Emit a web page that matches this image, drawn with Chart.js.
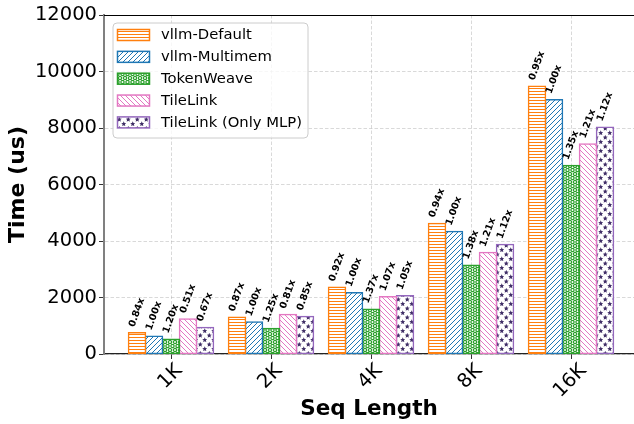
<!DOCTYPE html>
<html>
<head>
<meta charset="utf-8">
<script src="https://cdn.jsdelivr.net/npm/chart.js@4.4.0/dist/chart.umd.min.js"></script>
<style>
  html, body { margin: 0; padding: 0; background: #fff; }
  canvas { display: block; }
</style>
</head>
<body>
<canvas id="c" width="634" height="424"></canvas>
<script>
// Sequence lengths on the x axis
const categories = ['1K', '2K', '4K', '8K', '16K'];

// Latency per configuration (us)
const vllmDefault  = [750, 1300, 2360, 4620, 9480];
const vllmMultimem = [630, 1130, 2170, 4340, 9000];
const tokenWeave   = [525, 905, 1585, 3145, 6670];
const tileLink     = [1235, 1395, 2025, 3590, 7430];
const tileLinkMlp  = [940, 1330, 2065, 3875, 8030];

// Speedup over vllm-Multimem, printed above each bar
const vllmDefaultSpeedup  = ['0.84x', '0.87x', '0.92x', '0.94x', '0.95x'];
const vllmMultimemSpeedup = ['1.00x', '1.00x', '1.00x', '1.00x', '1.00x'];
const tokenWeaveSpeedup   = ['1.20x', '1.25x', '1.37x', '1.38x', '1.35x'];
const tileLinkSpeedup     = ['0.51x', '0.81x', '1.07x', '1.21x', '1.21x'];
const tileLinkMlpSpeedup  = ['0.67x', '0.85x', '1.05x', '1.12x', '1.12x'];

// Y axis ticks
const yTicks = [0, 2000, 4000, 6000, 8000, 10000, 12000];

const FONT = "'DejaVu Sans', sans-serif";
const canvas = document.getElementById('c');
const mainCtx = canvas.getContext('2d');

function makePattern(w, h, draw) {
  const t = document.createElement('canvas');
  t.width = w; t.height = h;
  const g = t.getContext('2d');
  g.fillStyle = '#ffffff';
  g.fillRect(0, 0, w, h);
  draw(g, w, h);
  return mainCtx.createPattern(t, 'repeat');
}

function hatchHorizontal(color) {
  return makePattern(4, 3, (g, w) => {
    g.fillStyle = color;
    g.fillRect(0, 1, w, 1);
  });
}

function hatchDiagonal(color, forward) {
  return makePattern(5, 5, (g, w, h) => {
    g.strokeStyle = color;
    g.lineWidth = 1;
    g.beginPath();
    for (let o = -w; o <= w; o += w) {
      if (forward) { g.moveTo(o, h); g.lineTo(o + w, 0); }
      else { g.moveTo(o, 0); g.lineTo(o + w, h); }
    }
    g.stroke();
  });
}

function hatchCircles(color) {
  return makePattern(10, 8, (g) => {
    g.strokeStyle = color;
    g.lineWidth = 1.3;
    const pts = [[2.5, 2], [7.5, 2], [0, 6], [5, 6], [10, 6]];
    pts.forEach(([x, y]) => {
      g.beginPath();
      g.arc(x, y, 1.6, 0, Math.PI * 2);
      g.stroke();
    });
  });
}

function starPath(g, cx, cy, R, r) {
  g.beginPath();
  for (let k = 0; k < 10; k++) {
    const rad = k % 2 === 0 ? R : r;
    const a = -Math.PI / 2 + k * Math.PI / 5;
    const x = cx + rad * Math.cos(a), y = cy + rad * Math.sin(a);
    if (k === 0) g.moveTo(x, y); else g.lineTo(x, y);
  }
  g.closePath();
}

function hatchStars(color) {
  return makePattern(9, 9, (g) => {
    g.fillStyle = color;
    [[2.25, 2.5], [6.75, 7]].forEach(([x, y]) => {
      starPath(g, x, y, 2.7, 1.2);
      g.fill();
    });
  });
}

const COLORS = {
  orange: '#ff7f0e',
  blue: '#1f77b4',
  green: '#2ca02c',
  pink: '#e377c2',
  purple: '#9467bd'
};

function series(label, values, speedups, color, fill) {
  return {
    label,
    data: values.map((v, i) => ({ x: i, y: v })),
    speedups,
    backgroundColor: fill,
    borderColor: color,
    borderWidth: 1.5,
    borderSkipped: false,
    inflateAmount: 0.75
  };
}

const datasets = [
  series('vllm-Default', vllmDefault, vllmDefaultSpeedup, COLORS.orange, hatchHorizontal(COLORS.orange)),
  series('vllm-Multimem', vllmMultimem, vllmMultimemSpeedup, COLORS.blue, hatchDiagonal(COLORS.blue, true)),
  series('TokenWeave', tokenWeave, tokenWeaveSpeedup, COLORS.green, hatchCircles(COLORS.green)),
  series('TileLink', tileLink, tileLinkSpeedup, COLORS.pink, hatchDiagonal(COLORS.pink, false)),
  series('TileLink (Only MLP)', tileLinkMlp, tileLinkMlpSpeedup, COLORS.purple, hatchStars('#3f2d66'))
];

// Rotated speedup labels above bars
const speedupLabels = {
  id: 'speedupLabels',
  afterDatasetsDraw(chart) {
    const ctx = chart.ctx;
    const th = 70 * Math.PI / 180;
    const fs = 9.6;
    const h = fs * 0.75;
    ctx.save();
    ctx.font = `bold ${fs}px ${FONT}`;
    ctx.fillStyle = '#000';
    ctx.textAlign = 'left';
    ctx.textBaseline = 'middle';
    chart.data.datasets.forEach((ds, di) => {
      chart.getDatasetMeta(di).data.forEach((bar, i) => {
        const txt = ds.speedups[i];
        const L = ctx.measureText(txt).width;
        const ax = bar.x - L * Math.cos(th) / 2;
        const ay = bar.y - 5 - (h / 2) * Math.cos(th);
        ctx.save();
        ctx.translate(ax, ay);
        ctx.rotate(-th);
        ctx.fillText(txt, 0, 0);
        ctx.restore();
      });
    });
    ctx.restore();
  }
};

// Top frame line, rotated category labels and the legend box
const decorations = {
  id: 'decorations',
  afterDraw(chart) {
    const ctx = chart.ctx;
    const area = chart.chartArea;
    const xs = chart.scales.x;

    ctx.save();
    ctx.strokeStyle = '#000';
    ctx.lineWidth = 1.1;
    ctx.beginPath();
    ctx.moveTo(area.left, area.top + 0.5);
    ctx.lineTo(area.right, area.top + 0.5);
    ctx.stroke();
    ctx.restore();

    // category tick labels, rotated 45 degrees and centred under each tick
    ctx.save();
    const fs = 19.5;
    ctx.font = `${fs}px ${FONT}`;
    ctx.fillStyle = '#000';
    ctx.textAlign = 'center';
    ctx.textBaseline = 'middle';
    const c45 = Math.SQRT1_2;
    categories.forEach((lab, i) => {
      const tx = xs.getPixelForValue(i);
      const w = ctx.measureText(lab).width;
      const hh = fs * 0.73;
      const half = (w * c45 + hh * c45) / 2;
      ctx.save();
      ctx.translate(tx - 1.5, area.bottom + 8 + half);
      ctx.rotate(-Math.PI / 4);
      ctx.fillText(lab, 0, 1);
      ctx.restore();
    });
    ctx.restore();

    // legend
    ctx.save();
    const lx = 113, ly = 23, lw = 195, lh = 115, rad = 4;
    ctx.beginPath();
    ctx.moveTo(lx + rad, ly);
    ctx.arcTo(lx + lw, ly, lx + lw, ly + lh, rad);
    ctx.arcTo(lx + lw, ly + lh, lx, ly + lh, rad);
    ctx.arcTo(lx, ly + lh, lx, ly, rad);
    ctx.arcTo(lx, ly, lx + lw, ly, rad);
    ctx.closePath();
    ctx.fillStyle = 'rgba(255,255,255,0.8)';
    ctx.fill();
    ctx.strokeStyle = '#cccccc';
    ctx.lineWidth = 1;
    ctx.stroke();

    ctx.font = `14.8px ${FONT}`;
    ctx.textAlign = 'left';
    ctx.textBaseline = 'middle';
    chart.data.datasets.forEach((ds, i) => {
      const sy = 29.5 + i * 21.85;
      ctx.fillStyle = ds.backgroundColor;
      ctx.fillRect(117.5, sy, 32, 11);
      ctx.strokeStyle = ds.borderColor;
      ctx.lineWidth = 1.5;
      ctx.strokeRect(117.5, sy, 32, 11);
      ctx.fillStyle = '#000';
      ctx.fillText(ds.label, 161, sy + 6);
    });
    ctx.restore();
  }
};

new Chart(canvas, {
  type: 'bar',
  data: { datasets },
  options: {
    responsive: false,
    animation: false,
    devicePixelRatio: 1,
    categoryPercentage: 0.85,
    barPercentage: 1.0,
    layout: { padding: { top: 15, right: 0, left: 0, bottom: 0 } },
    plugins: {
      legend: { display: false },
      tooltip: { enabled: false }
    },
    scales: {
      x: {
        type: 'linear',
        offset: false,
        min: -0.67,
        max: 4.63,
        afterBuildTicks: (s) => { s.ticks = categories.map((_, i) => ({ value: i })); },
        afterFit: (s) => { s.height = 70; },
        ticks: { display: false },
        grid: {
          offset: false,
          color: 'rgba(170,170,170,0.45)',
          lineWidth: 1,
          tickLength: 5,
          tickColor: '#333',
          tickWidth: 1
        },
        border: { color: '#222', width: 1.3, dash: [3.5, 2] },
        title: {
          display: true,
          text: 'Seq Length',
          color: '#000',
          font: { family: FONT, size: 21.5, weight: 'bold' },
          padding: { top: 0, bottom: 2 }
        }
      },
      y: {
        min: 0,
        max: 12000,
        afterBuildTicks: (s) => { s.ticks = yTicks.map(v => ({ value: v })); },
        afterFit: (s) => { s.width = 104; },
        ticks: {
          color: '#000',
          padding: 2,
          font: { family: FONT, size: 19.5 },
          callback: (v) => String(v)
        },
        grid: {
          color: 'rgba(170,170,170,0.45)',
          lineWidth: 1,
          tickLength: 5,
          tickColor: '#333',
          tickWidth: 1
        },
        border: { color: '#808080', width: 2, dash: [3.5, 2] },
        title: {
          display: true,
          text: 'Time (us)',
          color: '#000',
          font: { family: FONT, size: 22, weight: 'bold' },
          padding: { top: 5, bottom: 0 }
        }
      }
    }
  },
  plugins: [speedupLabels, decorations]
});
</script>
</body>
</html>
